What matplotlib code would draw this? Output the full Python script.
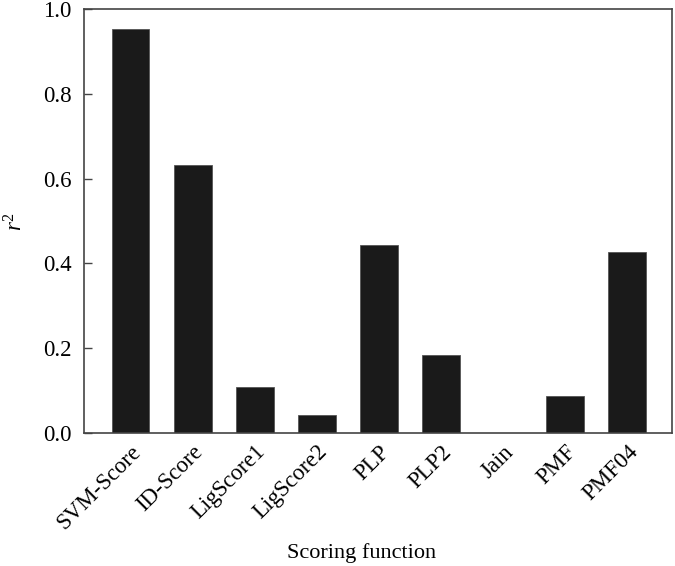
import matplotlib
matplotlib.use("Agg")
import matplotlib.pyplot as plt
import numpy as np

categories = ["SVM-Score", "ID-Score", "LigScore1", "LigScore2", "PLP", "PLP2", "Jain", "PMF", "PMF04"]
r2_values = [0.952, 0.632, 0.109, 0.043, 0.443, 0.183, 0.0, 0.087, 0.427]
yticks = [0.0, 0.2, 0.4, 0.6, 0.8, 1.0]

plt.rcParams['font.family'] = ['Liberation Serif', 'DejaVu Serif']
plt.rcParams['mathtext.fontset'] = 'custom'
plt.rcParams['mathtext.rm'] = 'Liberation Serif'
plt.rcParams['mathtext.it'] = 'Liberation Serif:italic'

fs = 16.5
fig = plt.figure(figsize=(6.75, 5.66), dpi=100)
ax = fig.add_axes([0.1244, 0.235, 0.8712, 0.7491])

x = np.arange(len(categories))
ax.bar(x, r2_values, width=0.61, color="#1a1a1a", edgecolor="#555555", linewidth=0.6, zorder=2)

ax.set_xlim(-0.75, 8.72)
ax.set_ylim(0, 1.0)
ax.set_yticks(yticks)
ax.set_yticklabels([f"{v:.1f}" for v in yticks], fontsize=fs)
ax.set_xticks(x)
ax.set_xticklabels(categories, rotation=45, ha="right", rotation_mode="anchor", fontsize=fs)
ax.tick_params(axis="x", length=0, pad=6)
ax.tick_params(axis="y", direction="in", length=6, width=1, color="#444444", pad=9)

for s in ax.spines.values():
    s.set_color("#444444")
    s.set_linewidth(1.2)

fig.text(362 / 675, 1 - 553 / 566, "Scoring function", fontsize=16, ha="center", va="center")
fig.text(16 / 675, 1 - 222 / 566, r"$r^2$", fontsize=fs, rotation=90, ha="center", va="center")

fig.savefig("out.png", dpi=100)
